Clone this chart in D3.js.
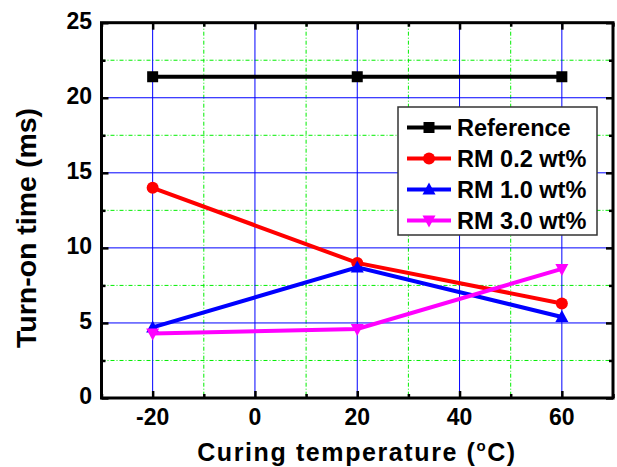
<!DOCTYPE html>
<html><head><meta charset="utf-8">
<script src="https://cdn.jsdelivr.net/npm/d3@7"></script>
<style>body{margin:0;background:#fff}svg{display:block}text{font-family:"Liberation Sans",Arial,sans-serif}</style>
</head><body>
<script>
const temps = [-20, 20, 60];
const reference = [21.4, 21.4, 21.4];
const rm02 = [14.0, 9.0, 6.3];
const rm10 = [4.7, 8.7, 5.4];
const rm30 = [4.3, 4.6, 8.6];
const seriesNames = ["Reference", "RM 0.2 wt%", "RM 1.0 wt%", "RM 3.0 wt%"];
const seriesColors = ["#000000", "#ff0000", "#0000ff", "#ff00ff"];
const seriesShapes = ["square", "circle", "triangle", "triangleDown"];
const xTicks = [-20, 0, 20, 40, 60];
const xMinor = [-30, -10, 10, 30, 50, 70];
const yTicks = [0, 5, 10, 15, 20, 25];
const yMinor = [2.5, 7.5, 12.5, 17.5, 22.5];

const W = 617, H = 467;
const L = 101.5, R = 613, T = 22.7, B = 398;
const x = d3.scaleLinear().domain([-30, 70]).range([L, R]);
const y = d3.scaleLinear().domain([0, 25]).range([B, T]);

const svg = d3.select("body").append("svg").attr("width", W).attr("height", H);

// grids
const g = svg.append("g");
g.selectAll(".vminor").data(xMinor.filter(v => v > -30 && v < 70)).join("line")
  .attr("x1", d => x(d)).attr("x2", d => x(d)).attr("y1", T).attr("y2", B)
  .attr("stroke", "#00ee00").attr("stroke-width", 1).attr("stroke-dasharray", "4,2,1,2");
g.selectAll(".hminor").data(yMinor).join("line").attr("class","hm")
  .attr("x1", L).attr("x2", R).attr("y1", d => y(d)).attr("y2", d => y(d))
  .attr("stroke", "#00ee00").attr("stroke-width", 1).attr("stroke-dasharray", "4,2,1,2");
g.selectAll(".vmajor").data(xTicks).join("line").attr("class","vM")
  .attr("x1", d => x(d)).attr("x2", d => x(d)).attr("y1", T).attr("y2", B)
  .attr("stroke", "#0000ff").attr("stroke-width", 1);
g.selectAll(".hmajor").data(yTicks.filter(v => v > 0 && v < 25)).join("line").attr("class","hM")
  .attr("x1", L).attr("x2", R).attr("y1", d => y(d)).attr("y2", d => y(d))
  .attr("stroke", "#0000ff").attr("stroke-width", 1);

// axes with inward ticks
function tickAxis(axisGen, transform, vals, size) {
  svg.append("g").attr("transform", transform)
    .call(axisGen.tickValues(vals).tickSize(size).tickFormat(""))
    .call(s => s.select(".domain").remove())
    .call(s => s.selectAll("line").attr("stroke", "#000").attr("stroke-width", 2.5));
}
tickAxis(d3.axisTop(x), `translate(0,${B})`, xTicks, 7);
tickAxis(d3.axisTop(x), `translate(0,${B})`, xMinor, 4);
tickAxis(d3.axisBottom(x), `translate(0,${T})`, xTicks, 7);
tickAxis(d3.axisBottom(x), `translate(0,${T})`, xMinor, 4);
tickAxis(d3.axisRight(y), `translate(${L},0)`, yTicks, 7);
tickAxis(d3.axisRight(y), `translate(${L},0)`, yMinor, 4);
tickAxis(d3.axisLeft(y), `translate(${R},0)`, yTicks, 7);
tickAxis(d3.axisLeft(y), `translate(${R},0)`, yMinor, 4);

svg.append("rect").attr("x", L).attr("y", T).attr("width", R - L).attr("height", B - T)
  .attr("fill", "none").attr("stroke", "#000").attr("stroke-width", 3);

// tick labels
svg.append("g").selectAll("text").data(xTicks).join("text")
  .attr("x", d => x(d)).attr("y", 425).attr("text-anchor", "middle")
  .attr("font-size", 23).attr("font-weight", "bold").text(d => d);
svg.append("g").selectAll("text").data(yTicks).join("text")
  .attr("x", 92).attr("y", d => y(d) + 6).attr("text-anchor", "end")
  .attr("font-size", 23).attr("font-weight", "bold").text(d => d);

// axis titles
const xt = svg.append("text").attr("x", 357).attr("y", 461).attr("text-anchor", "middle")
  .attr("font-size", 25).attr("font-weight", "bold").attr("letter-spacing", 1.6);
xt.append("tspan").text("Curing temperature (");
xt.append("tspan").attr("font-size", 15).attr("dy", -10).text("o");
xt.append("tspan").attr("dy", 10).text("C)");
svg.append("text").attr("transform", "translate(36,228) rotate(-90)").attr("text-anchor", "middle")
  .attr("font-size", 28.5).attr("font-weight", "bold").text("Turn-on time (ms)");

// symbols
function sym(sel, shape, color, cx, cy) {
  if (shape === "square") sel.append("rect").attr("x", cx - 5.5).attr("y", cy - 5.5).attr("width", 11).attr("height", 11).attr("fill", color);
  else if (shape === "circle") sel.append("circle").attr("cx", cx).attr("cy", cy).attr("r", 6).attr("fill", color);
  else if (shape === "triangle") sel.append("path").attr("d", `M${cx},${cy - 7}L${cx + 6.5},${cy + 5}L${cx - 6.5},${cy + 5}Z`).attr("fill", color);
  else sel.append("path").attr("d", `M${cx},${cy + 7}L${cx + 6.5},${cy - 5}L${cx - 6.5},${cy - 5}Z`).attr("fill", color);
}

const allSeries = [reference, rm02, rm10, rm30];
const line = d3.line().x((d, i) => x(temps[i])).y(d => y(d));
allSeries.forEach((vals, k) => {
  const gs = svg.append("g");
  gs.append("path").datum(vals).attr("d", line).attr("fill", "none")
    .attr("stroke", seriesColors[k]).attr("stroke-width", 4);
  vals.forEach((v, i) => sym(gs, seriesShapes[k], seriesColors[k], x(temps[i]), y(v)));
});

// legend
const lg = svg.append("g");
lg.append("rect").attr("x", 398).attr("y", 107).attr("width", 199).attr("height", 128)
  .attr("fill", "#fff").attr("stroke", "#333").attr("stroke-width", 1.5);
seriesNames.forEach((name, k) => {
  const cy = 127.5 + k * 31;
  lg.append("line").attr("x1", 407).attr("x2", 451).attr("y1", cy).attr("y2", cy)
    .attr("stroke", seriesColors[k]).attr("stroke-width", 4);
  sym(lg, seriesShapes[k], seriesColors[k], 429, cy);
  lg.append("text").attr("x", 457).attr("y", cy + 8).attr("font-size", 23.5)
    .attr("font-weight", "bold").text(name);
});
</script>
</body></html>
